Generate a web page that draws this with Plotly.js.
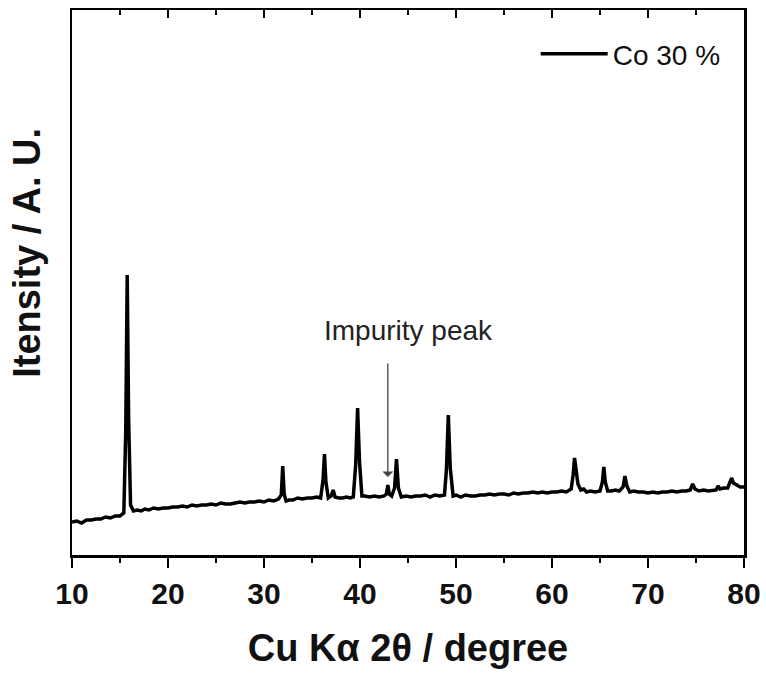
<!DOCTYPE html>
<html>
<head>
<meta charset="utf-8">
<script src="https://cdn.plot.ly/plotly-3.0.1.min.js"></script>
<style>html,body{margin:0;padding:0;background:#fff;}#chart{width:766px;height:675px;}</style>
</head>
<body>
<div id="chart"></div>
<script>
const twoTheta = [
 10.0,10.5,11.0,11.5,12.0,12.5,13.0,13.5,14.0,14.5,15.0,15.4,15.6,15.75,15.9,16.1,16.4,16.8,17.2,17.6,
 18.0,18.5,19.0,19.5,20.0,20.5,21.0,21.5,22.0,22.5,23.0,23.5,24.0,24.5,25.0,25.5,26.0,26.5,27.0,27.5,
 28.0,28.5,29.0,29.5,30.0,30.5,31.0,31.5,31.8,31.95,32.1,32.3,32.6,33.0,33.5,34.0,34.5,35.0,35.5,35.9,
 36.15,36.3,36.45,36.7,37.0,37.2,37.4,37.8,38.2,38.6,39.0,39.3,39.55,39.75,39.95,40.2,40.5,41.0,41.5,42.0,
 42.5,42.75,42.9,43.05,43.3,43.6,43.8,44.0,44.3,44.8,45.3,45.8,46.3,46.8,47.3,47.8,48.3,48.8,49.0,49.2,
 49.4,49.7,50.0,50.5,51.0,51.5,52.0,52.5,53.0,53.5,54.0,54.5,55.0,55.5,56.0,56.5,57.0,57.5,58.0,58.5,
 59.0,59.5,60.0,60.5,61.0,61.5,62.0,62.2,62.35,62.5,62.7,63.0,63.3,63.6,64.0,64.5,65.0,65.25,65.4,65.55,
 65.8,66.2,66.6,67.0,67.4,67.6,67.8,68.1,68.5,69.0,69.5,70.0,70.5,71.0,71.5,72.0,72.5,73.0,73.5,74.0,
 74.4,74.65,74.9,75.3,75.8,76.3,76.8,77.1,77.3,77.5,77.9,78.3,78.55,78.7,78.9,79.2,79.6,80.0
];
const intensity = [
 28,29,27,30,30,31,31,33,32,34,34,37,120,275,130,45,39,40,39,41,
 40,42,41,42,42,43,43,44,43,45,44,45,45,46,45,47,46,46,47,48,
 47,48,48,49,48,50,49,51,55,84,56,49,50,50,52,51,52,52,53,52,
 70,96,68,52,54,60,53,52,52,53,52,53,85,142,88,54,54,53,54,53,
 54,56,65,56,54,62,91,62,53,54,53,54,54,55,53,55,54,55,80,135,
 82,54,55,53,55,54,54,55,55,56,55,56,56,55,57,56,57,57,58,57,
 58,57,58,58,59,58,61,75,92,80,66,60,61,58,59,58,59,68,83,68,
 59,59,60,59,63,74,64,58,59,58,58,57,58,57,58,58,59,58,59,59,
 60,66,61,59,60,59,60,60,64,61,62,62,68,72,67,65,63,63
];
const seriesName = "Co 30 %";
const xTickVals = [10,20,30,40,50,60,70,80];
const xTitle = "Cu Kα 2θ / degree";
const yTitle = "Itensity / A. U.";
const noteText = "Impurity peak";
const notePeak = [42.9, 73];   // impurity peak position (2θ, intensity)

const boldFont = {family: "'Liberation Sans', Arial, sans-serif", weight: 'bold', color: '#111'};

const traces = [
  {x: twoTheta, y: intensity, type: 'scatter', mode: 'lines', name: seriesName,
   line: {color: '#000', width: 3.5}, showlegend: true},
  {x: twoTheta, y: intensity, type: 'scatter', mode: 'lines', xaxis: 'x2', yaxis: 'y',
   line: {color: 'rgba(0,0,0,0)', width: 0}, showlegend: false, hoverinfo: 'skip'}
];

const layout = {
  width: 766, height: 675,
  margin: {l: 72, r: 22, t: 10, b: 120},
  paper_bgcolor: '#fff', plot_bgcolor: '#fff',
  showlegend: true,
  legend: {x: 0.69, y: 0.965, xanchor: 'left', yanchor: 'top', bgcolor: 'rgba(0,0,0,0)',
           borderwidth: 0, itemwidth: 67,
           font: {family: "'Liberation Sans', Arial, sans-serif", size: 28, color: '#111'}},
  xaxis: {
    range: [10, 80], tickvals: xTickVals, ticks: 'outside', ticklen: 10, tickwidth: 2.5,
    tickcolor: '#000', showline: true, linecolor: '#000', linewidth: 2.5, mirror: true,
    showgrid: false, zeroline: false,
    tickfont: Object.assign({size: 30}, boldFont),
    minor: {dtick: 5, ticks: 'outside', ticklen: 5, tickwidth: 2.5, tickcolor: '#000', showgrid: false},
    title: {text: xTitle, font: Object.assign({size: 38}, boldFont), standoff: 26}
  },
  xaxis2: {
    overlaying: 'x', side: 'top', anchor: 'y', range: [10, 80], tickvals: xTickVals,
    ticks: 'inside', ticklen: 8, tickwidth: 2.5, tickcolor: '#000', showticklabels: false,
    showline: false, showgrid: false, zeroline: false,
    minor: {dtick: 5, ticks: 'inside', ticklen: 5, tickwidth: 2.5, tickcolor: '#000', showgrid: false}
  },
  yaxis: {
    range: [-5, 540], showticklabels: false, ticks: '', showgrid: false, zeroline: false,
    showline: true, linecolor: '#000', linewidth: 2.5, mirror: true
  },
  annotations: [
    {x: -0.068, y: 0.555, xref: 'paper', yref: 'paper', text: yTitle, textangle: -90,
     showarrow: false, xanchor: 'center', yanchor: 'middle',
     font: Object.assign({size: 38}, boldFont)},
    {x: notePeak[0], y: notePeak[1], xref: 'x', yref: 'y', ax: notePeak[0], ay: 188,
     axref: 'x', ayref: 'y', text: '', showarrow: true, arrowhead: 1, arrowsize: 1.4,
     arrowwidth: 1.3, arrowcolor: '#444'},
    {x: 45.1, y: 220, xref: 'x', yref: 'y', text: noteText, showarrow: false,
     font: {family: "'Liberation Sans', Arial, sans-serif", size: 28, color: '#222'}}
  ]
};

Plotly.newPlot('chart', traces, layout, {displayModeBar: false, staticPlot: true});
</script>
</body>
</html>
